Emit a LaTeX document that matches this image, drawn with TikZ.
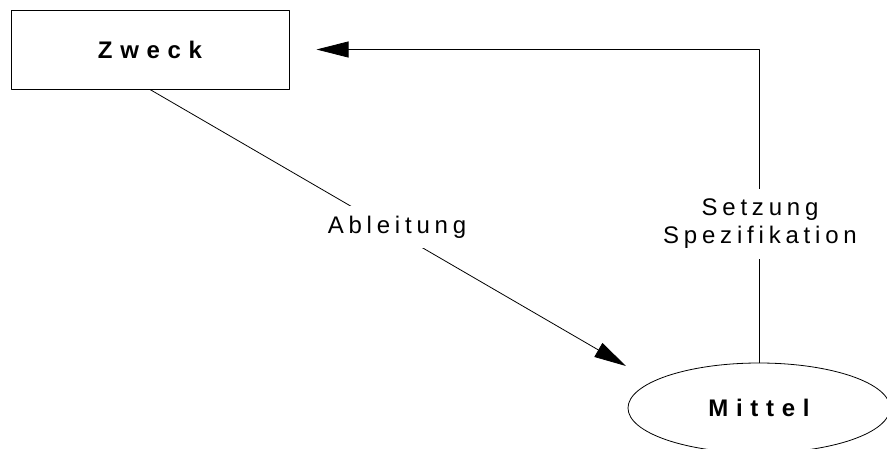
\documentclass[tikz,border=0pt]{standalone}
\usepackage{fontspec}
\setmainfont{Liberation Sans}[LetterSpace=20, BoldFeatures={LetterSpace=32}]
\usetikzlibrary{arrows.meta,shapes.geometric}

\begin{document}
\begin{tikzpicture}[x=1pt, y=-1pt, line cap=round, line join=round,
	box/.style = {draw, line width=1pt, minimum width=278pt, minimum height=79pt, inner sep=0pt, font=\fontsize{24}{28}\selectfont\bfseries},
	oval/.style = {draw, ellipse, line width=0.8pt, minimum width=262pt, minimum height=90pt, inner sep=0pt, font=\fontsize{24}{28}\selectfont\bfseries},
	lbl/.style = {fill=white, inner sep=10pt, align=center, font=\fontsize{24}{28}\selectfont},
	pfeil/.style = {line width=0.8pt, -{Triangle[length=32pt, width=16pt]}}]
	\useasboundingbox (0,0) rectangle (887,448);
	% the two nodes
	\node [box] (zweck) at (150,49.5) {Zweck};
	\node [oval] (mittel) at (759,408) {Mittel};
	\coordinate (ableitung-end) at (626,366);
	% connectors
	\draw [pfeil] (zweck.south) -- (ableitung-end);
	\draw [pfeil, shorten >=27pt] (mittel.north) |- (zweck.east);
	% labels on top of the lines
	\node [lbl] (ableitung) at (397,227) {Ableitung};
	\node [lbl] (setzung) at (760,224) {Setzung\\Spezifikation};
\end{tikzpicture}
\end{document}
